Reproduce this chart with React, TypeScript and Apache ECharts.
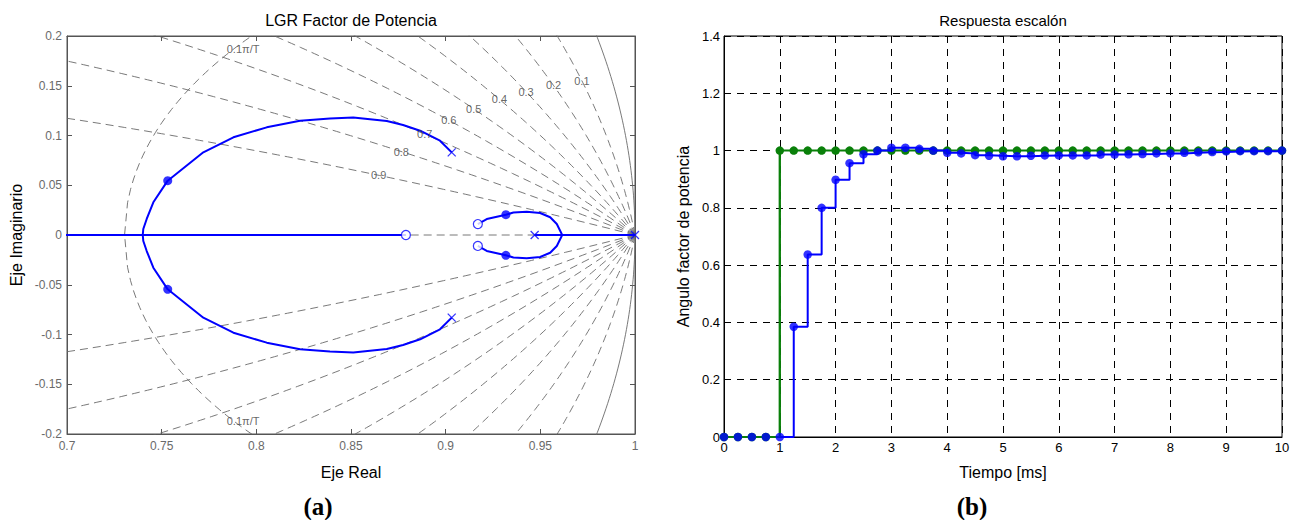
import React, { useEffect, useRef } from 'react';
import * as echarts from 'echarts';

// ---------------- Panel (a): root locus ----------------
const zetaValues = [0.1, 0.2, 0.3, 0.4, 0.5, 0.6, 0.7, 0.8, 0.9];
const zetaLabels = ['0.1', '0.2', '0.3', '0.4', '0.5', '0.6', '0.7', '0.8', '0.9'];
const wnLabel = '0.1\u03c0/T';
const wnLabelPoints: [number, number][] = [[0.793, 0.187], [0.793, -0.187]];

// upper branch (pole -> break-in on real axis); lower is its conjugate
const locusUpperMain: [number, number][] = [
  [0.9032, 0.083], [0.897, 0.0948], [0.8865, 0.1048], [0.8775, 0.1106], [0.8689, 0.1146],
  [0.8512, 0.118], [0.8389, 0.117], [0.8231, 0.1149], [0.8055, 0.1082], [0.7879, 0.0982],
  [0.772, 0.0831], [0.7532, 0.0546], [0.7456, 0.0329], [0.7421, 0.0161], [0.7403, 0.006], [0.74, 0],
];
const locusUpperSmall: [number, number][] = [
  [0.917, 0.011], [0.9217, 0.016], [0.9318, 0.0204], [0.9358, 0.0226], [0.9428, 0.0233],
  [0.9499, 0.0221], [0.9552, 0.0178], [0.9587, 0.011], [0.9613, 0.001], [0.9615, 0],
];
const realAxisLeft: [number, number][] = [[0.69, 0], [0.879, 0]];
const realAxisRight: [number, number][] = [[0.947, 0], [1.0, 0]];
const poles: [number, number][] = [[0.9032, 0.083], [0.9032, -0.083], [0.947, 0], [1.0, 0]];
const zeros: [number, number][] = [[0.879, 0], [0.917, 0.011], [0.917, -0.011]];
const closedLoop: [number, number][] = [[0.7532, 0.0546], [0.7532, -0.0546], [0.9318, 0.0204], [0.9318, -0.0204]];

// ---------------- Panel (b): step response ----------------
const timeMs = [0, 0.25, 0.5, 0.75, 1, 1.25, 1.5, 1.75, 2, 2.25, 2.5, 2.75, 3, 3.25, 3.5, 3.75, 4, 4.25, 4.5, 4.75,
  5, 5.25, 5.5, 5.75, 6, 6.25, 6.5, 6.75, 7, 7.25, 7.5, 7.75, 8, 8.25, 8.5, 8.75, 9, 9.25, 9.5, 9.75, 10];
const reference = [0, 0, 0, 0, 1, 1, 1, 1, 1, 1, 1, 1, 1, 1, 1, 1, 1, 1, 1, 1,
  1, 1, 1, 1, 1, 1, 1, 1, 1, 1, 1, 1, 1, 1, 1, 1, 1, 1, 1, 1, 1];
const response = [0, 0, 0, 0, 0, 0.385, 0.637, 0.8, 0.898, 0.956, 0.987, 1.0, 1.01, 1.01, 1.006, 1.0, 0.992, 0.99, 0.984, 0.982,
  0.98, 0.98, 0.982, 0.983, 0.983, 0.983, 0.983, 0.986, 0.986, 0.987, 0.988, 0.99, 0.99, 0.992, 0.994, 0.995, 0.997, 0.998, 0.998, 0.998, 1.0];

const FONT = '"Liberation Sans", Arial, Helvetica, sans-serif';
const GRIDGRAY = '#6a6a6a';
const BLUE = '#0000ff';
const GREEN = '#0a800a';

function zetaLine(z: number, sign: number): [number, number][] {
  const a = z / Math.sqrt(1 - z * z);
  const pts: [number, number][] = [];
  for (let k = 0; k <= 200; k++) {
    const th = k * 0.003;
    const r = Math.exp(-a * th);
    pts.push([r * Math.cos(th), sign * r * Math.sin(th)]);
  }
  return pts;
}
function wnCurve(c: number): [number, number][] {
  const pts: [number, number][] = [];
  for (let k = 0; k <= 100; k++) {
    const z = k / 100;
    const r = Math.exp(-z * c), th = c * Math.sqrt(1 - z * z);
    pts.push([r * Math.cos(th), -r * Math.sin(th)]);
  }
  for (let k = 100; k >= 0; k--) {
    const z = k / 100;
    const r = Math.exp(-z * c), th = c * Math.sqrt(1 - z * z);
    pts.push([r * Math.cos(th), r * Math.sin(th)]);
  }
  return pts;
}
function unitCircle(): [number, number][] {
  const pts: [number, number][] = [];
  for (let k = -60; k <= 60; k++) {
    const th = k * 0.005;
    pts.push([Math.cos(th), Math.sin(th)]);
  }
  return pts;
}
function zetaLabelPos(z: number): [number, number] {
  const rho = 0.159;
  const r = Math.exp(-z * rho), th = rho * Math.sqrt(1 - z * z);
  return [r * Math.cos(th), r * Math.sin(th)];
}

function buildOption(): any {
  const dashed = { color: GRIDGRAY, width: 0.9, type: [8, 5] as any };
  const gridSeries: any[] = [];
  zetaValues.forEach((z) => {
    [1, -1].forEach((s) => {
      gridSeries.push({
        type: 'line', xAxisIndex: 0, yAxisIndex: 0, data: zetaLine(z, s), symbol: 'none',
        lineStyle: dashed, silent: true, clip: true, z: 1,
      });
    });
  });
  gridSeries.push({
    type: 'line', xAxisIndex: 0, yAxisIndex: 0, data: [[0.6, 0], [1, 0]], symbol: 'none',
    lineStyle: dashed, silent: true, clip: true, z: 1,
  });
  gridSeries.push({
    type: 'line', xAxisIndex: 0, yAxisIndex: 0, data: wnCurve(0.1 * Math.PI), symbol: 'none',
    lineStyle: dashed, silent: true, clip: true, z: 1,
  });
  gridSeries.push({
    type: 'line', xAxisIndex: 0, yAxisIndex: 0, data: unitCircle(), symbol: 'none',
    lineStyle: { color: GRIDGRAY, width: 0.9 }, silent: true, clip: true, z: 1,
  });

  const locusLine = (data: [number, number][]) => ({
    type: 'line', xAxisIndex: 0, yAxisIndex: 0, data, symbol: 'none',
    lineStyle: { color: BLUE, width: 2 }, silent: true, clip: true, z: 3,
  });

  const xPath = 'path://M0,0L10,10M10,0L0,10';

  const axisA = {
    axisLine: { show: true, onZero: false, lineStyle: { color: '#555', width: 1 } },
    axisTick: { show: true, inside: true, length: 5, lineStyle: { color: '#555' } },
    splitLine: { show: false },
  };
  const axisB = {
    axisLine: { show: true, onZero: false, lineStyle: { color: '#000', width: 1 } },
    axisTick: { show: false },
    splitLine: { show: true, lineStyle: { color: '#000', width: 1, type: [7, 6] } },
  };

  return {
    animation: false,
    backgroundColor: '#ffffff',
    textStyle: { fontFamily: FONT },
    grid: [
      { left: 67, top: 36, width: 568, height: 398, show: true, borderColor: '#555', borderWidth: 1 },
      { left: 724, top: 36, width: 558, height: 401, show: true, borderColor: '#000', borderWidth: 1 },
    ],
    xAxis: [
      {
        gridIndex: 0, type: 'value', min: 0.7, max: 1, interval: 0.05, position: 'bottom', ...axisA,
        axisLabel: { color: '#6a6a6a', fontSize: 12, margin: 6, fontFamily: FONT },
        name: 'Eje Real', nameLocation: 'middle', nameGap: 30,
        nameTextStyle: { color: '#000', fontSize: 16, fontFamily: FONT },
      },
      {
        gridIndex: 0, type: 'value', min: 0.7, max: 1, interval: 0.05, position: 'top', ...axisA,
        axisLabel: { show: false },
      },
      {
        gridIndex: 1, type: 'value', min: 0, max: 10, interval: 1, position: 'bottom', ...axisB,
        axisLabel: { color: '#000', fontSize: 13, margin: 4, fontFamily: FONT },
        name: 'Tiempo [ms]', nameLocation: 'middle', nameGap: 27,
        nameTextStyle: { color: '#000', fontSize: 16, fontFamily: FONT },
      },
    ],
    yAxis: [
      {
        gridIndex: 0, type: 'value', min: -0.2, max: 0.2, interval: 0.05, position: 'left', ...axisA,
        axisLabel: { color: '#6a6a6a', fontSize: 12, margin: 5, fontFamily: FONT },
        name: 'Eje Imaginario', nameLocation: 'middle', nameGap: 43,
        nameTextStyle: { color: '#000', fontSize: 16, fontFamily: FONT },
      },
      {
        gridIndex: 0, type: 'value', min: -0.2, max: 0.2, interval: 0.05, position: 'right', ...axisA,
        axisLabel: { show: false },
      },
      {
        gridIndex: 1, type: 'value', min: 0, max: 1.4, interval: 0.2, position: 'left', ...axisB,
        axisLabel: { color: '#000', fontSize: 13, margin: 4, fontFamily: FONT },
        name: 'Angulo factor de potencia', nameLocation: 'middle', nameGap: 33,
        nameTextStyle: { color: '#000', fontSize: 16, fontFamily: FONT },
      },
    ],
    graphic: [
      { type: 'text', x: 351, y: 20, style: { text: 'LGR Factor de Potencia', fill: '#000', font: `16px ${FONT}`, textAlign: 'center', textVerticalAlign: 'middle' } },
      { type: 'text', x: 1003, y: 20, style: { text: 'Respuesta escal\u00f3n', fill: '#000', font: `15px ${FONT}`, textAlign: 'center', textVerticalAlign: 'middle' } },
      { type: 'text', x: 318, y: 506, style: { text: '(a)', fill: '#000', font: `bold 25px "Liberation Serif", "Times New Roman", serif`, textAlign: 'center', textVerticalAlign: 'middle' } },
      { type: 'text', x: 972, y: 506, style: { text: '(b)', fill: '#000', font: `bold 25px "Liberation Serif", "Times New Roman", serif`, textAlign: 'center', textVerticalAlign: 'middle' } },
    ],
    series: [
      ...gridSeries,
      locusLine(realAxisLeft),
      locusLine(realAxisRight),
      locusLine(locusUpperMain),
      locusLine(locusUpperMain.map(([x, y]) => [x, -y] as [number, number])),
      locusLine(locusUpperSmall),
      locusLine(locusUpperSmall.map(([x, y]) => [x, -y] as [number, number])),
      {
        type: 'scatter', xAxisIndex: 0, yAxisIndex: 0, data: poles, symbol: xPath, symbolSize: 8,
        itemStyle: { color: 'rgba(0,0,0,0)', borderColor: BLUE, borderWidth: 1.3 }, silent: true, clip: false, z: 4,
      },
      {
        type: 'scatter', xAxisIndex: 0, yAxisIndex: 0, data: zeros, symbol: 'circle', symbolSize: 9,
        itemStyle: { color: '#fff', borderColor: BLUE, borderWidth: 1.2 }, silent: true, z: 4,
      },
      {
        type: 'scatter', xAxisIndex: 0, yAxisIndex: 0, data: closedLoop, symbol: 'circle', symbolSize: 9,
        itemStyle: { color: BLUE }, silent: true, z: 4,
      },
      {
        type: 'scatter', xAxisIndex: 0, yAxisIndex: 0, symbolSize: 0, silent: true, z: 5,
        data: zetaValues.map((z, i) => ({ value: zetaLabelPos(z), name: zetaLabels[i] })),
        label: { show: true, position: 'inside', formatter: '{b}', color: '#404040', fontSize: 11, fontFamily: FONT },
      },
      {
        type: 'scatter', xAxisIndex: 0, yAxisIndex: 0, symbolSize: 0, silent: true, z: 5,
        data: wnLabelPoints.map((p) => ({ value: p, name: wnLabel })),
        label: { show: true, position: 'inside', formatter: '{b}', color: '#404040', fontSize: 11, fontFamily: FONT },
      },
      // Panel (b)
      {
        type: 'line', xAxisIndex: 2, yAxisIndex: 2, step: 'end',
        data: timeMs.map((t, i) => [t, reference[i]]), symbol: 'circle', symbolSize: 8.5, showAllSymbol: true,
        lineStyle: { color: GREEN, width: 2 }, itemStyle: { color: GREEN }, silent: true, z: 2,
      },
      {
        type: 'line', xAxisIndex: 2, yAxisIndex: 2, step: 'end',
        data: timeMs.map((t, i) => [t, response[i]]), symbol: 'none',
        lineStyle: { color: BLUE, width: 2 }, silent: true, z: 3,
      },
      {
        type: 'line', xAxisIndex: 2, yAxisIndex: 2, step: 'end',
        data: timeMs.filter((t) => t <= 1).map((t, i) => [t, reference[i]]), symbol: 'none',
        lineStyle: { color: GREEN, width: 2 }, silent: true, z: 4,
      },
      {
        type: 'scatter', xAxisIndex: 2, yAxisIndex: 2,
        data: timeMs.map((t, i) => [t, response[i]]), symbol: 'circle', symbolSize: 8.5,
        itemStyle: { color: BLUE }, silent: true, clip: false, z: 5,
      },
    ],
  };
}

export default function App() {
  const ref = useRef<HTMLDivElement>(null);
  useEffect(() => {
    document.body.style.margin = '0';
    const chart = echarts.init(ref.current!, undefined, { renderer: 'svg' });
    chart.setOption(buildOption());
    return () => chart.dispose();
  }, []);
  return <div ref={ref} style={{ position: 'fixed', left: 0, top: 0, width: 1298, height: 520, background: '#fff' }} />;
}
